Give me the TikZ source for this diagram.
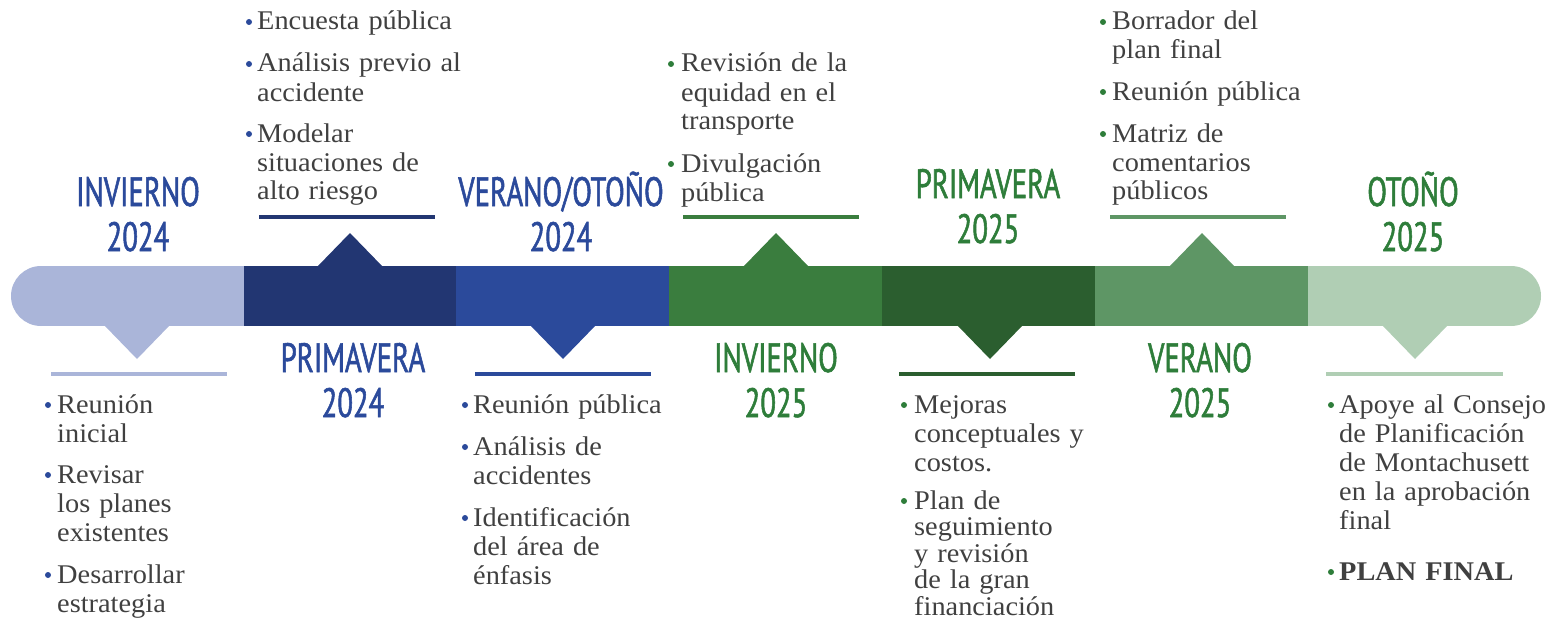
\documentclass[tikz,border=0pt]{standalone}
\usepackage{fontspec}
\newfontfamily\bodyfont[FakeStretch=1.05]{Liberation Serif}
\newfontfamily\headfont[FakeStretch=0.70,FakeBold=1.3]{PT Sans}
\definecolor{cA}{HTML}{AAB5D9}
\definecolor{cB}{HTML}{223672}
\definecolor{cC}{HTML}{2B4A9B}
\definecolor{cD}{HTML}{3A7D3E}
\definecolor{cE}{HTML}{2B5E2F}
\definecolor{cF}{HTML}{5E9665}
\definecolor{cG}{HTML}{B0CEB4}
\definecolor{hblue}{HTML}{2B4A9B}
\definecolor{hgreen}{HTML}{2E7D3A}
\definecolor{txt}{HTML}{404040}
\tikzset{
  head/.style={anchor=base, text width=260pt, align=center, inner sep=0pt,
    font=\headfont\fontsize{41}{45}\selectfont},
  headB/.style={head, text=hblue},
  headG/.style={head, text=hgreen},
  item/.style={anchor=base west, text width=240pt, align=left, inner sep=0pt,
    font=\bodyfont\fontsize{27}{29}\selectfont, text=txt},
  rule/.style={line width=4pt},
}
\newcommand{\bul}[3]{\fill[#1] (#2,#3-8) circle[radius=3];}
\begin{document}
\begin{tikzpicture}[x=1pt,y=-1pt]
\useasboundingbox (0,0) rectangle (1553,618);
% bar
\fill[cA] (41,296) circle[radius=30];
\fill[cA] (41,266) rectangle (244,326);
\fill[cB] (244,266) rectangle (456,326);
\fill[cC] (456,266) rectangle (669,326);
\fill[cD] (669,266) rectangle (882,326);
\fill[cE] (882,266) rectangle (1095,326);
\fill[cF] (1095,266) rectangle (1308,326);
\fill[cG] (1308,266) rectangle (1511,326);
\fill[cG] (1511,296) circle[radius=30];
% pointers
\fill[cA] (104,325) -- (170,325) -- (137,359) -- cycle;
\fill[cB] (317,267) -- (383,267) -- (350,233) -- cycle;
\fill[cC] (530,325) -- (596,325) -- (563,359) -- cycle;
\fill[cD] (743,267) -- (809,267) -- (776,233) -- cycle;
\fill[cE] (957,325) -- (1023,325) -- (990,359) -- cycle;
\fill[cF] (1169,267) -- (1235,267) -- (1202,233) -- cycle;
\fill[cG] (1382,325) -- (1448,325) -- (1415,359) -- cycle;
% rules
\draw[rule,cA] (51,374) -- (227,374);
\draw[rule,cB] (259,217) -- (435,217);
\draw[rule,cC] (475,374) -- (651,374);
\draw[rule,cD] (683,217) -- (859,217);
\draw[rule,cE] (899,374) -- (1075,374);
\draw[rule,cF] (1110,217) -- (1286,217);
\draw[rule,cG] (1326,374) -- (1503,374);
% headings
\node[headB] (h1) at (138,206) {INVIERNO\\2024};
\node[headB] (h2) at (353,372) {PRIMAVERA\\2024};
\node[headB] (h3) at (561,206) {VERANO/OTOÑO\\2024};
\node[headG] (h4) at (776,372) {INVIERNO\\2025};
\node[headG] (h5) at (988,198) {PRIMAVERA\\2025};
\node[headG] (h6) at (1200,372) {VERANO\\2025};
\node[headG] (h7) at (1413,206) {OTOÑO\\2025};
% top items seg2
\bul{hblue}{249}{30} \node[item] (t21) at (257,30) {Encuesta pública};
\bul{hblue}{249}{72} \node[item] (t22) at (257,72) {Análisis previo al\\accidente};
\bul{hblue}{249}{142} \node[item] (t23) at (257,142) {Modelar\\situaciones de\\alto riesgo};
% top items seg4
\bul{hgreen}{671}{72} \node[item] (t41) at (681,72) {Revisión de la\\equidad en el\\transporte};
\bul{hgreen}{671}{172} \node[item] (t42) at (681,172) {Divulgación\\pública};
% top items seg6
\bul{hgreen}{1103}{30} \node[item] (t61) at (1112,30) {Borrador del\\plan final};
\bul{hgreen}{1103}{100} \node[item] (t62) at (1112,100) {Reunión pública};
\bul{hgreen}{1103}{142} \node[item] (t63) at (1112,142) {Matriz de\\comentarios\\públicos};
% bottom items seg1
\bul{hblue}{48}{413} \node[item] (b11) at (57,413) {Reunión\\inicial};
\bul{hblue}{48}{483} \node[item] (b12) at (57,483) {Revisar\\los planes\\existentes};
\bul{hblue}{48}{583} \node[item] (b13) at (57,583) {Desarrollar\\estrategia};
% bottom items seg3
\bul{hblue}{465}{413} \node[item] (b31) at (473,413) {Reunión pública};
\bul{hblue}{465}{455} \node[item] (b32) at (473,455) {Análisis de\\accidentes};
\bul{hblue}{465}{526} \node[item] (b33) at (473,526) {Identificación\\del área de\\énfasis};
% bottom items seg5
\bul{hgreen}{904}{413} \node[item] (b51) at (914,413) {Mejoras\\conceptuales y\\costos.};
\bul{hgreen}{904}{509} \node[item, font=\bodyfont\fontsize{27}{26.5}\selectfont] (b52) at (914,509) {Plan de\\seguimiento\\y revisión\\de la gran\\financiación};
% bottom items seg7
\bul{hgreen}{1331}{413} \node[item] (b71) at (1339,413) {Apoye al Consejo\\de Planificación\\de Montachusett\\en la aprobación\\final};
\bul{hgreen}{1331}{580} \node[item] (b72) at (1339,580) {\bfseries PLAN FINAL};
\end{tikzpicture}
\end{document}
